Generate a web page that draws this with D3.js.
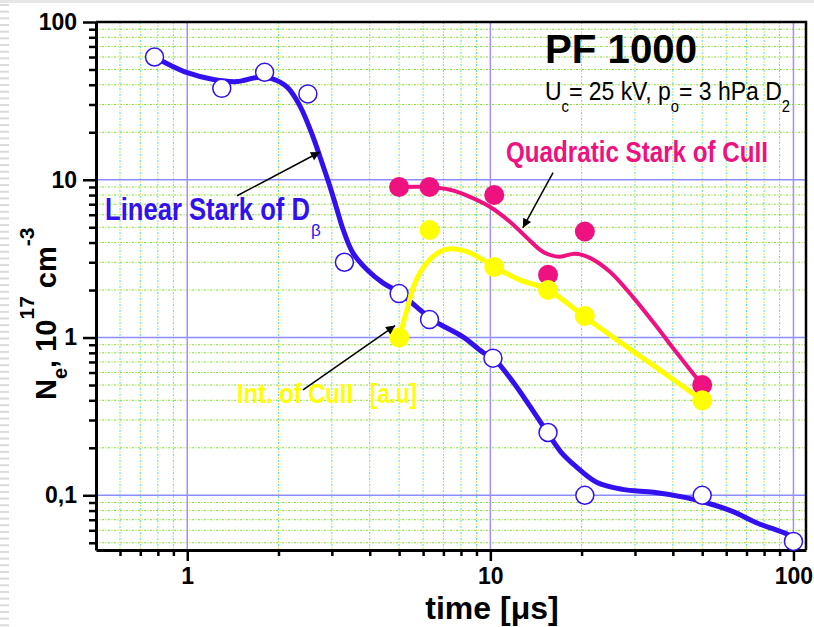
<!DOCTYPE html>
<html>
<head>
<meta charset="utf-8">
<script src="https://cdn.jsdelivr.net/npm/d3@7"></script>
<style>
  body { margin: 0; background: #fff; }
  svg { display: block; }
  text { font-family: "Liberation Sans", Arial, sans-serif; }
</style>
</head>
<body>
<div id="chart"></div>
<script>
// Measured points (time in us, Ne in 1e17 cm^-3)
const linTime = [0.78, 1.3, 1.8, 2.5, 3.3, 5.0, 6.3, 10.2, 15.5, 20.5, 50, 100];
const linNe = [60, 38, 48, 35, 3.0, 1.9, 1.3, 0.74, 0.25, 0.10, 0.10, 0.051];
const quadTime = [5.0, 6.3, 10.3, 15.5, 20.5, 50];
const quadNe = [9.0, 9.0, 8.0, 2.5, 4.7, 0.5];
const intTime = [5.0, 6.3, 10.3, 15.5, 20.5, 50];
const intNe = [1.0, 4.8, 2.8, 2.0, 1.37, 0.40];

// Smoothed curves as drawn in the figure
const linFitTime = [0.78, 0.834, 1.0, 1.22, 1.46, 1.70, 1.90, 2.14, 2.36, 2.60, 2.74, 2.96, 3.12, 3.27, 3.52, 3.92, 4.42, 5.03, 5.72, 6.46, 8.12, 9.44, 10.3, 11.9, 13.5, 15.4, 17.1, 19.1, 22.4, 27.3, 34.6, 43.8, 51.3, 62.9, 75.5, 94.8, 100];
const linFitNe = [60, 56, 47.7, 43.2, 41.9, 44.5, 43.8, 38.5, 29.1, 18.7, 14.0, 9.0, 6.46, 4.82, 3.44, 2.69, 2.22, 1.92, 1.56, 1.29, 1.01, 0.807, 0.73, 0.52, 0.367, 0.251, 0.188, 0.153, 0.121, 0.109, 0.1045, 0.097, 0.090, 0.079, 0.067, 0.057, 0.054];
const quadFitTime = [5.0, 6.27, 7.36, 8.56, 9.96, 11.6, 13.2, 14.9, 16.9, 19.0, 21.3, 24.8, 29.5, 35.4, 41.2, 50];
const quadFitNe = [9.0, 9.0, 8.64, 7.80, 6.75, 5.42, 4.29, 3.50, 3.25, 3.40, 3.20, 2.61, 1.81, 1.17, 0.80, 0.5];
const intFitTime = [5.0, 5.31, 5.64, 6.18, 6.82, 7.36, 8.37, 9.23, 10.3, 12.5, 15.5, 20.5, 28.2, 36.2, 50];
const intFitNe = [1.0, 1.50, 2.22, 2.98, 3.50, 3.65, 3.50, 3.20, 2.81, 2.32, 2.01, 1.35, 0.873, 0.624, 0.40];

// Axis ticks
const xMajor = [1, 10, 100];
const xTickLabels = ["1", "10", "100"];
const yMajor = [0.1, 1, 10, 100];
const yTickLabels = ["0,1", "1", "10", "100"];

// Annotation arrows (data coords): from label to curve
const arrowFrom = [[1.46, 7.92], [2.41, 0.466], [16.1, 11.1]];
const arrowTo = [[2.74, 15.0], [4.85, 1.19], [12.8, 4.96]];

const blue = "#3311ee";
const pink = "#ee1180";
const yellow = "#ffff00";

const margin = { top: 22, right: 8, bottom: 77, left: 96 };
const width = 814 - margin.left - margin.right;
const height = 627 - margin.top - margin.bottom;

const svg = d3.select("#chart")
  .append("svg")
  .attr("width", 814)
  .attr("height", 627);

// slide background decoration
svg.append("rect").attr("x", 0).attr("y", 0).attr("width", 814).attr("height", 3).attr("fill", "#e6e6e6");
svg.append("g")
  .selectAll("rect")
  .data(d3.range(4, 627, 6.67))
  .join("rect")
  .attr("x", 0)
  .attr("y", (d) => d)
  .attr("width", 9)
  .attr("height", 2)
  .attr("fill", "#dadada");

svg.append("defs")
  .append("marker")
  .attr("id", "arrow")
  .attr("viewBox", "0 0 10 10")
  .attr("refX", 10)
  .attr("refY", 5)
  .attr("markerWidth", 14)
  .attr("markerHeight", 9)
  .attr("markerUnits", "userSpaceOnUse")
  .attr("orient", "auto")
  .append("path")
  .attr("d", "M0,0L10,5L0,10Z")
  .attr("fill", "black");

const g = svg.append("g").attr("transform", `translate(${margin.left},${margin.top})`);

const x = d3.scaleLog().domain([0.5, 110]).range([0, width]);
const y = d3.scaleLog().domain([0.045, 100]).range([height, 0]);

const xMinor = x.ticks().filter((d) => !xMajor.includes(d) && d > 0.5);
const yMinor = y.ticks().filter((d) => !yMajor.includes(d));

// minor grid, dotted green / yellow
const grid = g.append("g");
[["#5de65d", 0], ["#e6e65a", 3]].forEach(([c, off]) => {
  grid.append("g").selectAll("line")
    .data(yMinor)
    .join("line")
    .attr("x1", 0).attr("x2", width)
    .attr("y1", (d) => y(d)).attr("y2", (d) => y(d))
    .attr("stroke", c)
    .attr("stroke-dasharray", "2,4")
    .attr("stroke-dashoffset", off);
});
[["#55dddd", 0], ["#e6e65a", 3]].forEach(([c, off]) => {
  grid.append("g").selectAll("line")
    .data(xMinor)
    .join("line")
    .attr("y1", 0).attr("y2", height)
    .attr("x1", (d) => x(d)).attr("x2", (d) => x(d))
    .attr("stroke", c)
    .attr("stroke-dasharray", "2,4")
    .attr("stroke-dashoffset", off);
});
// major grid
grid.append("g").selectAll("line")
  .data(yMajor.filter((d) => d < 100))
  .join("line")
  .attr("x1", 0).attr("x2", width)
  .attr("y1", (d) => y(d)).attr("y2", (d) => y(d))
  .attr("stroke", "#8c8cff")
  .attr("stroke-width", 1.5);
grid.append("g").selectAll("line")
  .data(xMajor)
  .join("line")
  .attr("y1", 0).attr("y2", height)
  .attr("x1", (d) => x(d)).attr("x2", (d) => x(d))
  .attr("stroke", "#a88cff")
  .attr("stroke-width", 1.5);

// frame top / right
g.append("path")
  .attr("d", `M0,0H${width}V${height}`)
  .attr("fill", "none")
  .attr("stroke", "black")
  .attr("stroke-width", 2.5);

// axes
const yAxis = g.append("g")
  .call(d3.axisLeft(y).tickValues(yMajor).tickFormat((d, i) => yTickLabels[i]).tickSize(13).tickSizeOuter(0).tickPadding(6));
g.append("g")
  .call(d3.axisLeft(y).tickValues(yMinor).tickFormat("").tickSize(7).tickSizeOuter(0))
  .call((a) => a.select(".domain").remove());
const xAxis = g.append("g")
  .attr("transform", `translate(0,${height})`)
  .call(d3.axisBottom(x).tickValues(xMajor).tickFormat((d, i) => xTickLabels[i]).tickSize(11).tickSizeOuter(0).tickPadding(7));
g.append("g")
  .attr("transform", `translate(0,${height})`)
  .call(d3.axisBottom(x).tickValues(xMinor).tickFormat("").tickSize(6).tickSizeOuter(0))
  .call((a) => a.select(".domain").remove());

g.selectAll(".domain").attr("stroke-width", 3);
g.selectAll(".tick line").attr("stroke-width", 2.5);
g.selectAll(".tick text")
  .style("font-family", "'Liberation Sans', Arial, sans-serif")
  .style("font-size", "23px")
  .style("font-weight", "bold")
  .attr("fill", "black");

// curves and points
const line = d3.line()
  .x((d) => x(d[0]))
  .y((d) => y(d[1]))
  .curve(d3.curveCatmullRom.alpha(0.5));

function drawSeries(fitT, fitN, t, n, color, lw, open) {
  g.append("path")
    .datum(d3.zip(fitT, fitN))
    .attr("d", line)
    .attr("fill", "none")
    .attr("stroke", color)
    .attr("stroke-width", lw)
    .attr("stroke-linecap", "round");
  g.append("g")
    .selectAll("circle")
    .data(d3.zip(t, n))
    .join("circle")
    .attr("cx", (d) => x(d[0]))
    .attr("cy", (d) => y(d[1]))
    .attr("r", open ? 9 : 10)
    .attr("fill", open ? "white" : color)
    .attr("stroke", open ? color : "none")
    .attr("stroke-width", 1.5);
}

drawSeries(linFitTime, linFitNe, linTime, linNe, blue, 5, true);
drawSeries(quadFitTime, quadFitNe, quadTime, quadNe, pink, 4, false);
drawSeries(intFitTime, intFitNe, intTime, intNe, yellow, 5, false);

// arrows
g.append("g")
  .selectAll("line")
  .data(d3.zip(arrowFrom, arrowTo))
  .join("line")
  .attr("x1", (d) => x(d[0][0]))
  .attr("y1", (d) => y(d[0][1]))
  .attr("x2", (d) => x(d[1][0]))
  .attr("y2", (d) => y(d[1][1]))
  .attr("stroke", "black")
  .attr("stroke-width", 1.5)
  .attr("marker-end", "url(#arrow)");

// labels
svg.append("text")
  .attr("x", 545).attr("y", 63)
  .attr("textLength", 152).attr("lengthAdjust", "spacingAndGlyphs")
  .style("font-size", "41px").style("font-weight", "bold")
  .text("PF 1000");

const cond = svg.append("text")
  .attr("x", 545).attr("y", 100)
  .attr("textLength", 245).attr("lengthAdjust", "spacingAndGlyphs")
  .style("font-size", "25px");
cond.append("tspan").text("U");
cond.append("tspan").attr("dy", 12).style("font-size", "16px").text("c");
cond.append("tspan").attr("dy", -12).text("= 25 kV, p");
cond.append("tspan").attr("dy", 12).style("font-size", "16px").text("o");
cond.append("tspan").attr("dy", -12).text("= 3 hPa D");
cond.append("tspan").attr("dy", 12).style("font-size", "16px").text("2");

svg.append("text")
  .attr("x", 506).attr("y", 162)
  .attr("textLength", 262).attr("lengthAdjust", "spacingAndGlyphs")
  .style("font-size", "29px").style("font-weight", "bold")
  .attr("fill", pink)
  .text("Quadratic Stark of CuII");

svg.append("text")
  .attr("x", 105).attr("y", 220)
  .attr("textLength", 205).attr("lengthAdjust", "spacingAndGlyphs")
  .style("font-size", "31px").style("font-weight", "bold")
  .attr("fill", blue)
  .text("Linear Stark of D");
svg.append("text")
  .attr("x", 311).attr("y", 236)
  .style("font-size", "17px")
  .attr("fill", blue)
  .text("β");

svg.append("text")
  .attr("x", 237).attr("y", 403)
  .attr("textLength", 116).attr("lengthAdjust", "spacingAndGlyphs")
  .style("font-size", "28px").style("font-weight", "bold")
  .attr("fill", yellow)
  .text("Int. of CuII");
svg.append("text")
  .attr("x", 370).attr("y", 403)
  .attr("textLength", 47).attr("lengthAdjust", "spacingAndGlyphs")
  .style("font-size", "28px").style("font-weight", "bold")
  .attr("fill", yellow)
  .text("[a.u]");

// axis titles
svg.append("text")
  .attr("x", 492).attr("y", 619)
  .attr("text-anchor", "middle")
  .style("font-size", "32px").style("font-weight", "bold")
  .text("time [μs]");

const yt = svg.append("text")
  .attr("transform", "translate(56,400) rotate(-90)")
  .style("font-size", "29px").style("font-weight", "bold");
yt.append("tspan").text("N");
yt.append("tspan").attr("dy", 11).style("font-size", "20px").text("e");
yt.append("tspan").attr("dy", -11).text(", 10");
yt.append("tspan").attr("dy", -22).style("font-size", "21px").text("17");
yt.append("tspan").attr("dy", 22).text(" cm");
yt.append("tspan").attr("dy", -22).style("font-size", "21px").text("-3");
</script>
</body>
</html>
